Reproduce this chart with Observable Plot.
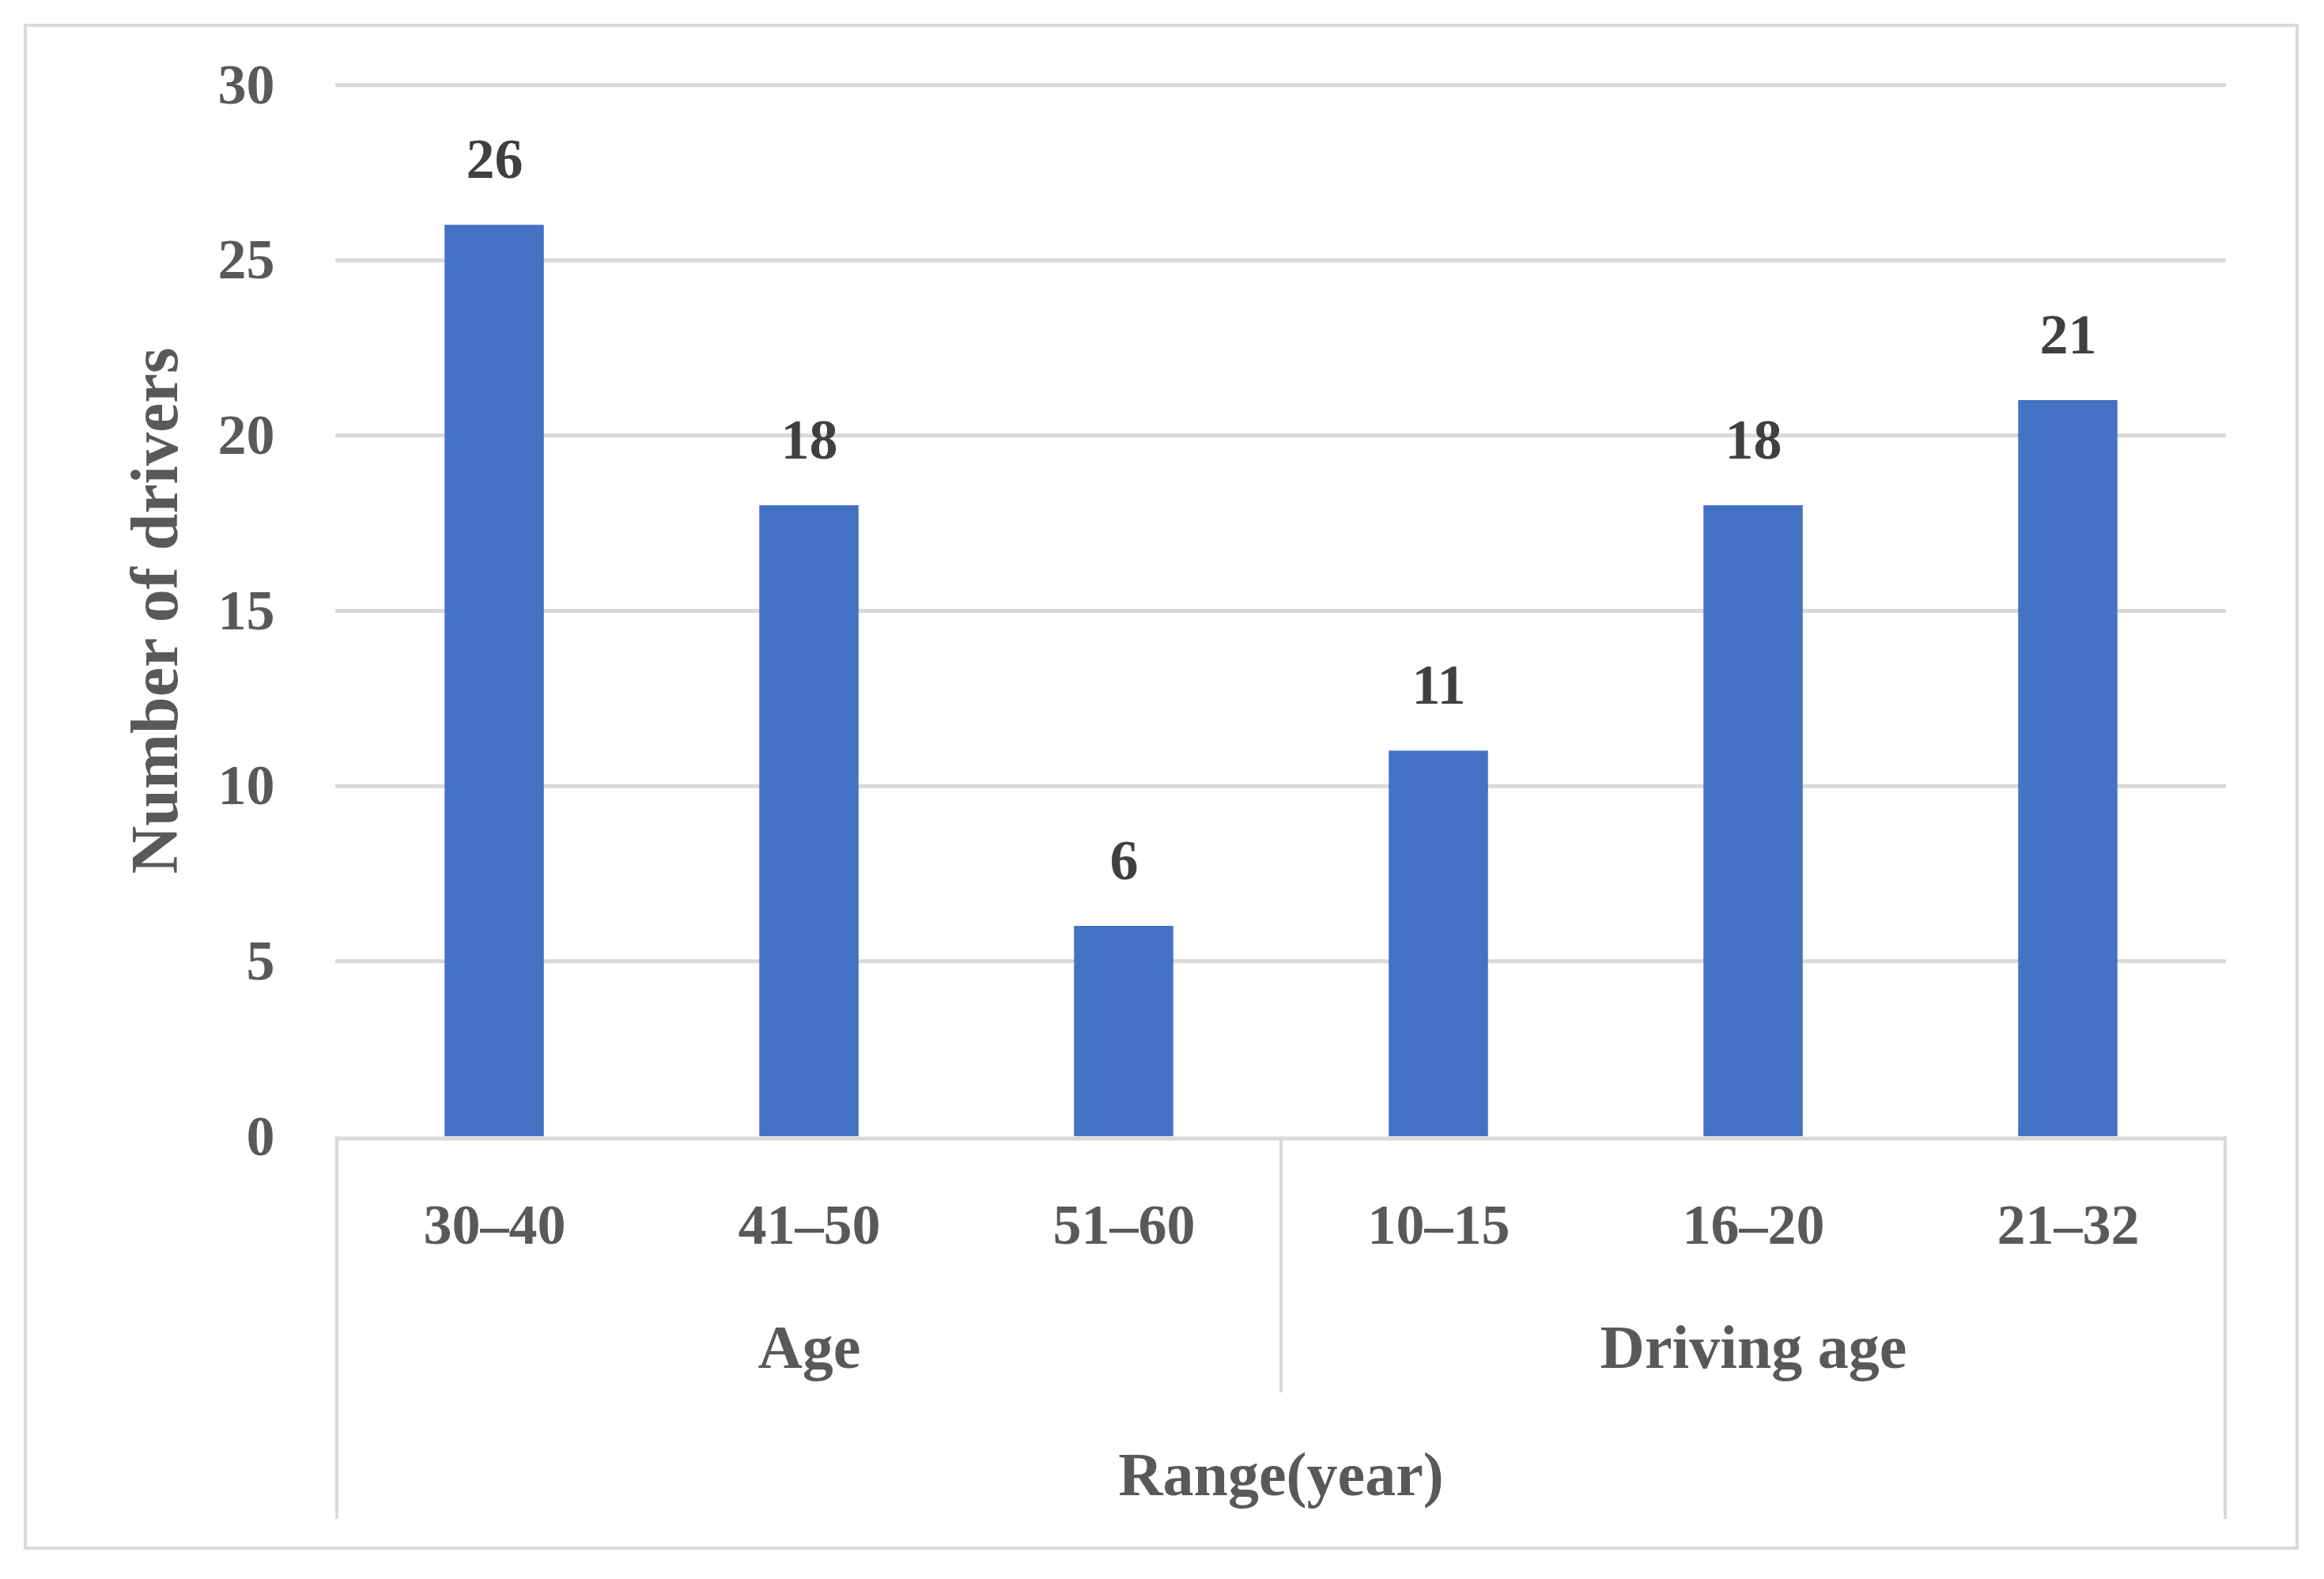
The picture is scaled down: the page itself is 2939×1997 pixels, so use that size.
<!DOCTYPE html>
<html>
<head>
<meta charset="utf-8">
<script src="https://cdn.jsdelivr.net/npm/d3@7"></script>
<script src="https://cdn.jsdelivr.net/npm/@observablehq/plot@0.6"></script>
<style>
  html, body { margin: 0; padding: 0; background: #ffffff; }
  #chart svg { display: block; }
</style>
</head>
<body>
<div id="chart"></div>
<script>
// ---- Data ----
const categories = ["30–40", "41–50", "51–60", "10–15", "16–20", "21–32"];
const groupOf = ["Age", "Age", "Age", "Driving age", "Driving age", "Driving age"];
const values = [26, 18, 6, 11, 18, 21];
const yTicks = [0, 5, 10, 15, 20, 25, 30];
const groupNames = ["Age", "Driving age"];
const xTitle = "Range(year)";
const yTitle = "Number of drivers";

const data = categories.map((c, i) => ({category: c, group: groupOf[i], value: values[i]}));

// ---- Layout ----
const W = 2939, H = 1997;
const mL = 424, mR = 124, mT = 107, mB = 560;
const step = (W - mL - mR) / categories.length;
const barW = 126;
const inset = (step - barW) / 2;
const FONT = "'Liberation Serif', 'DejaVu Serif', serif";
const GRID = "#d9d9d9";
const TXT = "#595959";

// middle category of each group for group label placement
const groupMid = g => {
  const cats = data.filter(d => d.group === g).map(d => d.category);
  return cats[Math.floor(cats.length / 2)];
};

const chart = Plot.plot({
  width: W,
  height: H,
  marginLeft: mL,
  marginRight: mR,
  marginTop: mT,
  marginBottom: mB,
  style: {fontFamily: FONT, fontWeight: "bold", background: "#ffffff", overflow: "visible"},
  x: {domain: categories, padding: 0, axis: null},
  y: {domain: [0, 30], axis: null},
  marks: [
    Plot.ruleY(yTicks.filter(d => d > 0), {stroke: GRID, strokeWidth: 5}),
    Plot.barY(data, {x: "category", y: "value", fill: "#4472C4", insetLeft: inset, insetRight: inset}),
    Plot.ruleY([0], {stroke: GRID, strokeWidth: 5, dy: 2.5}),
    // y tick labels
    Plot.text(yTicks, {y: d => d, text: d => String(d), frameAnchor: "left", textAnchor: "end",
      dx: -77, fontSize: 72, fill: TXT, fontWeight: "bold"}),
    // value labels
    Plot.text(data, {x: "category", y: "value", text: d => String(d.value), lineAnchor: "bottom",
      dy: -60, fontSize: 72, fill: "#404040", fontWeight: "bold"}),
    // category labels
    Plot.text(data, {x: "category", text: "category", frameAnchor: "bottom", textAnchor: "middle", dy: 135,
      fontSize: 72, fill: TXT, fontWeight: "bold"}),
    // group labels
    Plot.text(groupNames, {x: g => groupMid(g), text: d => d, frameAnchor: "bottom", textAnchor: "middle", dy: 292,
      fontSize: 78, fill: TXT, fontWeight: "bold"}),
    // x title
    Plot.text([xTitle], {text: d => d, frameAnchor: "bottom", textAnchor: "middle", dy: 453, fontSize: 78, fill: TXT, fontWeight: "bold"}),
    // y title
    Plot.text([yTitle], {text: d => d, frameAnchor: "left", textAnchor: "middle", rotate: -90, dx: -227, fontSize: 84,
      fill: TXT, fontWeight: "bold"})
  ]
});

document.getElementById("chart").appendChild(chart);

// ---- Decorations: category bracket lines and outer border, positioned with Plot's scales ----
const sx = chart.scale("x");
const sy = chart.scale("y");
const bw = sx.bandwidth != null ? sx.bandwidth : step;
const x0 = sx.apply(categories[0]);
const x1 = sx.apply(categories[categories.length - 1]) + bw;
const yBase = sy.apply(0);
const svg = d3.select(chart);
const deco = svg.append("g").attr("stroke", GRID).attr("fill", "none");

// outer and inner vertical lines
deco.append("line").attr("x1", x0).attr("x2", x0).attr("y1", yBase).attr("y2", yBase + 484).attr("stroke-width", 4);
deco.append("line").attr("x1", x1).attr("x2", x1).attr("y1", yBase).attr("y2", yBase + 484).attr("stroke-width", 4);
// group separators
for (let i = 1; i < data.length; i++) {
  if (data[i].group !== data[i - 1].group) {
    const xs = sx.apply(data[i].category);
    deco.append("line").attr("x1", xs).attr("x2", xs).attr("y1", yBase).attr("y2", yBase + 324).attr("stroke-width", 4);
  }
}
// chart border
deco.append("rect").attr("x", 32).attr("y", 32).attr("width", W - 32 - 34).attr("height", H - 32 - 39)
  .attr("stroke-width", 4);
</script>
</body>
</html>
